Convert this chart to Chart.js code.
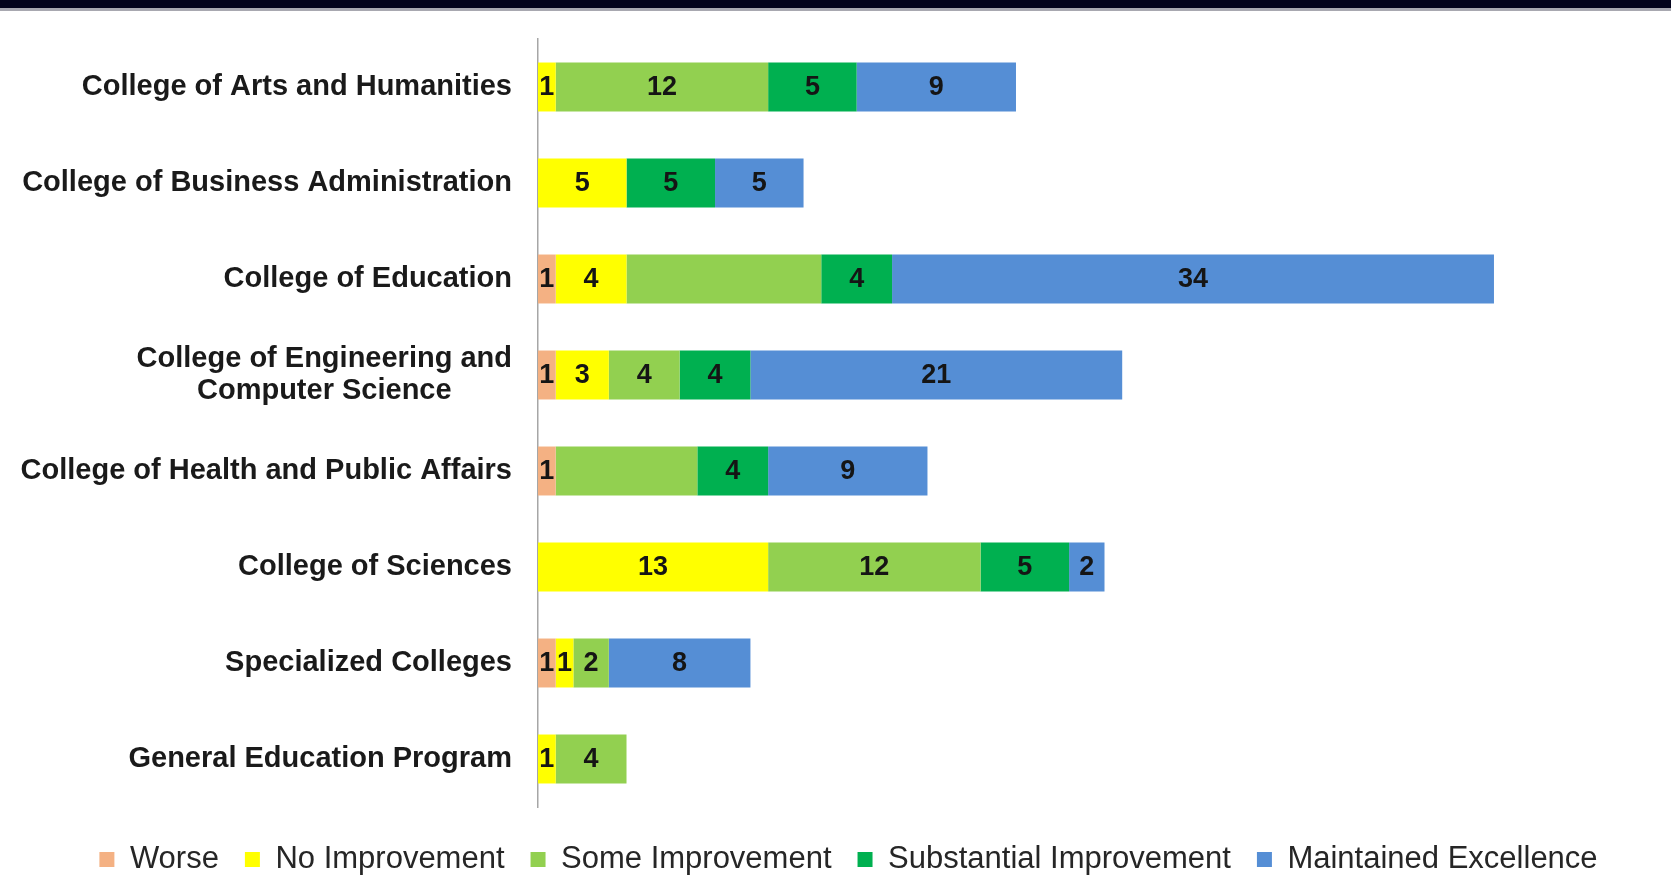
<!DOCTYPE html>
<html>
<head>
<meta charset="utf-8">
<title>Program improvement by college</title>
<script src="https://cdn.jsdelivr.net/npm/chart.js@4/dist/chart.umd.min.js"></script>
<style>
  html, body { margin: 0; padding: 0; background: #fff; overflow: hidden; }
  .top-band {
    position: absolute; left: 0; top: 0; width: 1671px; height: 8px;
    background: #04041c; border-bottom: 3px solid #a8a8b0; z-index: 2;
  }
  #chart { position: absolute; left: 0; top: 0; }
</style>
</head>
<body>
<div class="top-band"></div>
<canvas id="chart" width="1671" height="895"></canvas>
<script>
// ===== DATA =====
const categories = [
  'College of Arts and Humanities',
  'College of Business Administration',
  'College of Education',
  ['College of Engineering and', 'Computer Science'],
  'College of Health and Public Affairs',
  'College of Sciences',
  'Specialized Colleges',
  'General Education Program'
];
const seriesNames = ['Worse', 'No Improvement', 'Some Improvement', 'Substantial Improvement', 'Maintained Excellence'];
const worse       = [0, 0, 1, 1, 1, 0, 1, 0];
const noImprove   = [1, 5, 4, 3, 0, 13, 1, 1];
const someImprove = [12, 0, 11, 4, 8, 12, 2, 4];
const substantial = [5, 5, 4, 4, 4, 5, 0, 0];
const maintained  = [9, 5, 34, 21, 9, 2, 8, 0];
// the original leaves some segments without a number
const someLabelShown = [true, true, false, true, false, true, true, true];
const xMax = 64;

const colors = ['#f4b183', '#ffff00', '#92d050', '#00b050', '#558ed5'];
const FONT = 'Arial, "Liberation Sans", Helvetica, sans-serif';

(function() {
  const values = [worse, noImprove, someImprove, substantial, maintained];

  // ===== ROTULOS DO EIXO Y (centrados por bloco, alinhados a direita) =====
  const yLabels = {
    id: 'yLabels',
    afterDraw(chart) {
      const ctx = chart.ctx;
      const yScale = chart.scales.y;
      const right = chart.chartArea.left - 26;
      const lineH = 32;
      ctx.save();
      ctx.font = 'bold 29px ' + FONT;
      ctx.fillStyle = '#1a1a1a';
      ctx.textAlign = 'center';
      ctx.textBaseline = 'middle';
      categories.forEach((label, i) => {
        const lines = Array.isArray(label) ? label : [label];
        const blockW = Math.max(...lines.map(l => ctx.measureText(l).width));
        const cx = right - blockW / 2;
        const y0 = yScale.getPixelForValue(i) - (lines.length - 1) * lineH / 2;
        lines.forEach((l, j) => ctx.fillText(l, cx, y0 + j * lineH));
      });
      ctx.restore();
    }
  };

  // ===== VALORES DENTRO DAS BARRAS =====
  const barValues = {
    id: 'barValues',
    afterDatasetsDraw(chart) {
      const ctx = chart.ctx;
      ctx.save();
      ctx.font = 'bold 27px ' + FONT;
      ctx.fillStyle = '#151515';
      ctx.textAlign = 'center';
      ctx.textBaseline = 'middle';
      chart.data.datasets.forEach((ds, di) => {
        const meta = chart.getDatasetMeta(di);
        meta.data.forEach((bar, i) => {
          const v = ds.data[i];
          if (!v) return;
          if (di === 2 && !someLabelShown[i]) return;
          ctx.fillText(String(v), (bar.x + bar.base) / 2, bar.y + 1);
        });
      });
      ctx.restore();
    }
  };

  new Chart(document.getElementById('chart'), {
    type: 'bar',
    data: {
      labels: categories,
      datasets: seriesNames.map((name, k) => ({
        label: name,
        data: values[k],
        backgroundColor: colors[k],
        borderWidth: 0,
        barPercentage: 0.51,
        categoryPercentage: 1
      }))
    },
    options: {
      indexAxis: 'y',
      responsive: false,
      animation: false,
      devicePixelRatio: 1,
      layout: { padding: { top: 39, left: 26, right: 0, bottom: 10 } },
      plugins: {
        tooltip: { enabled: false },
        legend: {
          position: 'bottom',
          labels: {
            boxWidth: 15,
            boxHeight: 15,
            padding: 26,
            color: '#262626',
            font: { family: FONT, size: 31 }
          }
        }
      },
      scales: {
        x: {
          stacked: true,
          min: 0,
          max: xMax,
          grid: { display: false },
          border: { display: false },
          ticks: { display: false },
          afterFit: (s) => { s.height = 11; }
        },
        y: {
          stacked: true,
          grid: { display: false, drawTicks: false },
          border: { display: true, color: '#a6a6a6', width: 1.5 },
          ticks: { display: false },
          afterFit: (s) => { s.width = 538 - 26; }
        }
      }
    },
    plugins: [yLabels, barValues]
  });
})();
</script>
</body>
</html>
